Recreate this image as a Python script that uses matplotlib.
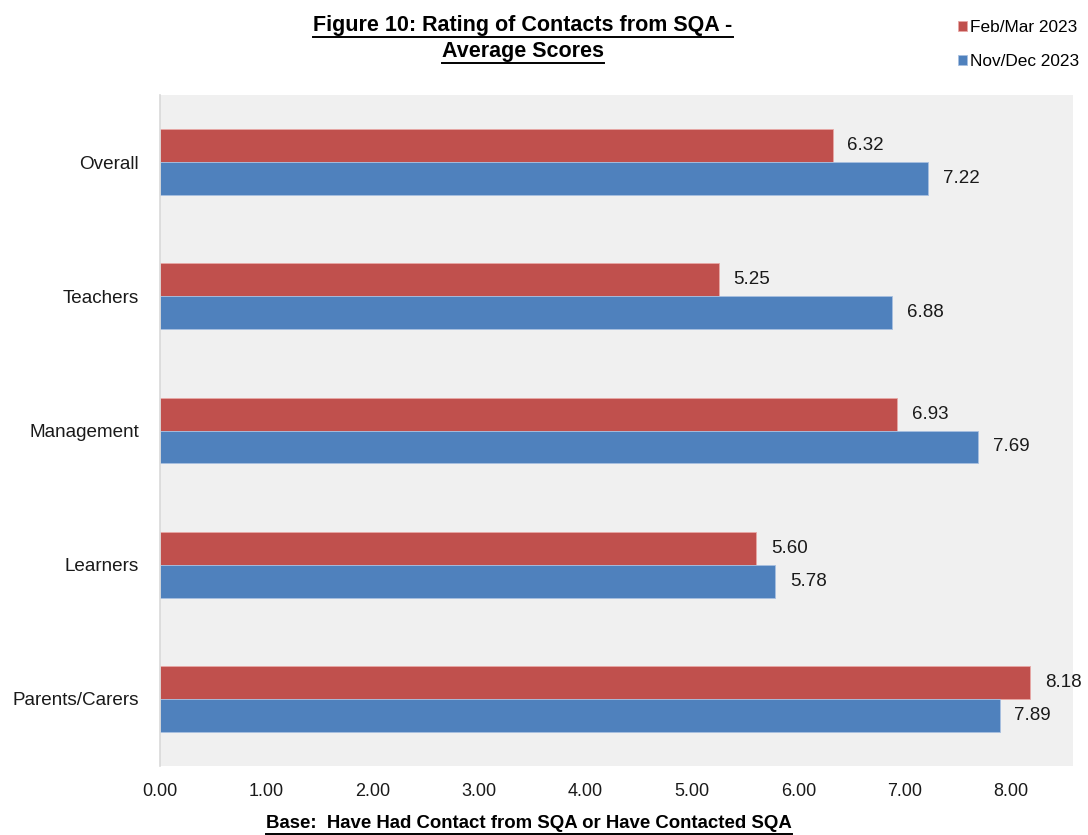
import matplotlib
matplotlib.use("Agg")
import matplotlib.pyplot as plt
import numpy as np
from matplotlib.lines import Line2D

plt.rcParams['font.family'] = ['Liberation Sans', 'DejaVu Sans']

categories = ["Overall", "Teachers", "Management", "Learners", "Parents/Carers"]
feb_mar_2023 = [6.32, 5.25, 6.93, 5.60, 8.18]
nov_dec_2023 = [7.22, 6.88, 7.69, 5.78, 7.89]
x_ticks = [0, 1, 2, 3, 4, 5, 6, 7, 8]
series_names = ["Feb/Mar 2023", "Nov/Dec 2023"]
red = "#c0504d"
blue = "#4f81bd"

fig = plt.figure(figsize=(10.88, 8.35), dpi=100)
W, H = 1088, 835
ax = fig.add_axes([160 / W, 1 - 766 / H, (1073 - 160) / W, (766 - 95) / H])
ax.set_facecolor("#f0f0f0")

n = len(categories)
ypos = np.arange(n)[::-1]  # Overall at top
h = 0.245
b1 = ax.barh(ypos + h / 2, feb_mar_2023, height=h, color=red,
             edgecolor="#e8a8a6", linewidth=0.6, label=series_names[0])
b2 = ax.barh(ypos - h / 2, nov_dec_2023, height=h, color=blue,
             edgecolor="#a8c0e0", linewidth=0.6, label=series_names[1])

for bars, vals in ((b1, feb_mar_2023), (b2, nov_dec_2023)):
    for rect, v in zip(bars, vals):
        ax.text(v + 0.14, rect.get_y() + rect.get_height() / 2, f"{v:.2f}",
                va="center", ha="left", fontsize=13.5, color="#1a1a1a")

ax.set_xlim(0, 8.58)
ax.set_ylim(-0.5, n - 0.5)
ax.set_xticks(x_ticks)
ax.set_xticklabels([f"{t:.2f}" for t in x_ticks], fontsize=13, color="#1a1a1a")
ax.set_yticks(ypos)
ax.set_yticklabels(categories, fontsize=13.6, color="#1a1a1a")
ax.tick_params(axis="both", length=0)
ax.tick_params(axis="x", pad=12)
ax.tick_params(axis="y", pad=15)
for s in ("top", "right", "bottom"):
    ax.spines[s].set_visible(False)
ax.spines["left"].set_color("#d9d9d9")
ax.spines["left"].set_linewidth(1.2)

fig.legend(handles=[b1, b2], labels=series_names, loc="upper right",
           bbox_to_anchor=(1086 / W, 1 - 13 / H), frameon=False,
           handlelength=0.5, handleheight=0.5, handletextpad=0.2,
           labelspacing=1.1, fontsize=12.4, borderaxespad=0)

# Underlined headings
renderer = fig.canvas.get_renderer()

def underlined(x, y, s, size, gap=1.0):
    t = fig.text(x / W, 1 - y / H, s, ha="center", va="center",
                 fontsize=size, fontweight="bold", color="#000000")
    bb = t.get_window_extent(renderer=renderer)
    uy = bb.y0 - gap
    fig.add_artist(Line2D([bb.x0 / W, bb.x1 / W], [uy / H, uy / H],
                          color="black", linewidth=1.4))
    return t

underlined(523, 26, "Figure 10: Rating of Contacts from SQA -", 15.5, gap=0.0)
underlined(523, 52, "Average Scores", 15.5, gap=0.0)
underlined(529, 824, "Base:  Have Had Contact from SQA or Have Contacted SQA", 13.4)

fig.savefig("out.png", dpi=100)
